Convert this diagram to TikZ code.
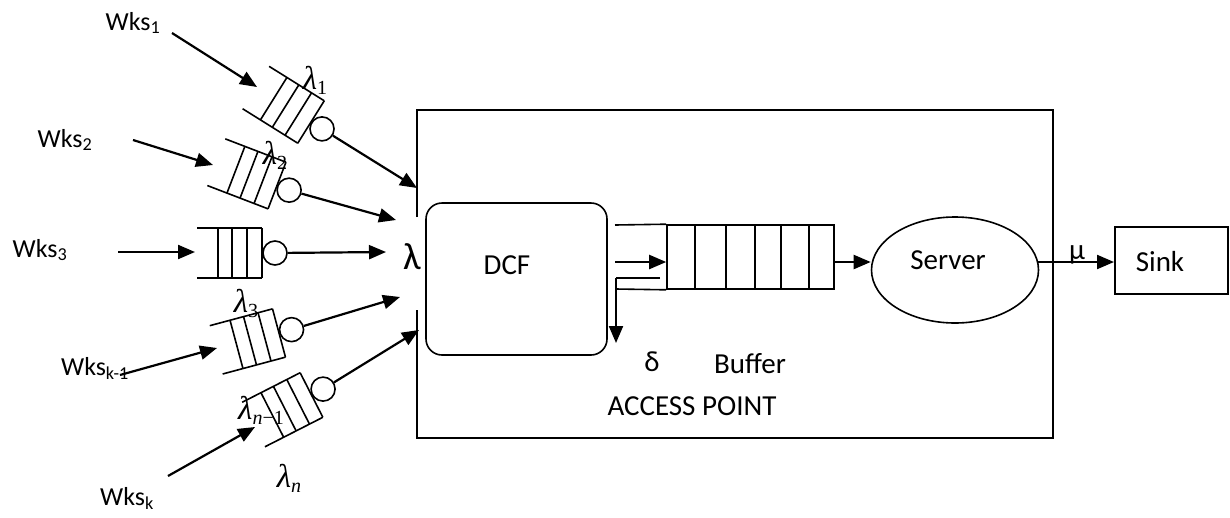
\documentclass[tikz,border=0pt]{standalone}
\usepackage{fontspec}
\setmainfont{Carlito}
\newfontfamily\tms{Liberation Serif}
\usetikzlibrary{arrows.meta,shapes.geometric}
\newcommand{\lamsub}[1]{{\itshape λ}\raisebox{-5pt}{\fontsize{20}{21}\selectfont #1}}
\begin{document}
\begin{tikzpicture}[x=1pt,y=-1pt,
  ln/.style={line width=1.6pt},
  bx/.style={line width=2pt},
  arr/.style={line width=2.2pt,-{Triangle[length=17pt,width=14pt]}},
  txt/.style={inner sep=0pt,font=\fontsize{29}{34}\selectfont},
  wks/.style={inner sep=0pt,font=\fontsize{26}{30}\selectfont},
  lam/.style={inner sep=0pt,font=\tms\fontsize{33}{36}\selectfont},
  pics/wq/.style={code={
    \draw[ln] (-65,-25) -- (0,-25) (-65,25) -- (0,25);
    \foreach \q in {0,-15,-30,-44} \draw[ln] (\q,-25) -- (\q,25);
    \node[draw,ln,circle,minimum size=24pt,inner sep=0pt] (-c) at (13,0) {};
  }}]
\useasboundingbox (0,0) rectangle (1230,517);

% workstation labels
\node[wks] (w1) at (133,23) {Wks\textsubscript{1}};
\node[wks] (w2) at (65,140) {Wks\textsubscript{2}};
\node[wks] (w3) at (40,250) {Wks\textsubscript{3}};
\node[wks] (w4) at (95,368) {Wks\textsubscript{k-1}};
\node[wks] (w5) at (127,498) {Wks\textsubscript{k}};

% queues
\pic[rotate=-32] (q1) at (311,122) {wq};
\pic[rotate=-21] (q2) at (277,185.5) {wq};
\pic (q3) at (262,253) {wq};
\pic[rotate=15] (q4) at (279,333) {wq};
\pic[rotate=27] (q5) at (311.5,395) {wq};

% arrow end points
\coordinate (a1s) at (172,33);  \coordinate (a1e) at (257,87);
\coordinate (a2s) at (133,140); \coordinate (a2e) at (213,165);
\coordinate (a3s) at (118,252); \coordinate (a3e) at (195,252);
\coordinate (a4s) at (120,375); \coordinate (a4e) at (217,348);
\coordinate (a5s) at (168,476); \coordinate (a5e) at (255,427);
\coordinate (t1) at (417,188);
\coordinate (t2) at (396,220);
\coordinate (t3) at (386,252);
\coordinate (t4) at (400,297);
\coordinate (t5) at (419,330);

\draw[arr] (a1s) -- (a1e);
\draw[arr] (a2s) -- (a2e);
\draw[arr] (a3s) -- (a3e);
\draw[arr] (a4s) -- (a4e);
\draw[arr] (a5s) -- (a5e);
\draw[arr] (q1-c) -- (t1);
\draw[arr] (q2-c) -- (t2);
\draw[arr] (q3-c) -- (t3);
\draw[arr] (q4-c) -- (t4);
\draw[arr] (q5-c) -- (t5);

% arrival rate labels
\node[lam] (l1) at (315,80) {\lamsub{1}};
\node[lam] (l2) at (275,155) {\lamsub{2}};
\node[lam] (l3) at (246,303) {\lamsub{3}};
\node[lam] (l4) at (261,410) {\lamsub{\itshape n\upshape −1}};
\node[lam] (l5) at (289,478) {\lamsub{\itshape n}};

% access point box
\draw[bx] (417,217) -- (417,110) -- (1053,110) -- (1053,438) -- (417,438) -- (417,310);
\node[inner sep=0pt,font=\fontsize{38}{42}\selectfont] (lam) at (412,257) {λ};

% DCF
\node[draw,ln,rounded corners=16pt,minimum width=181pt,minimum height=152pt] (dcf) at (516.5,279) {};
\node[txt] (dcft) at (507,265) {DCF};

% buffer
\node[draw,ln,minimum width=167pt,minimum height=64pt,inner sep=0pt] (buf) at (750.5,257) {};
\foreach \q in {695,726,755,781,809} \draw[ln] (\q,225) -- (\q,289);
\coordinate (bt) at (615,225);
\coordinate (bb) at (616,289);
\coordinate (bin) at (615,262);
\coordinate (bs) at (616,278);
\coordinate (bse) at (660,278);
\coordinate (bd) at (616,343);
\draw[ln] (bt) -- (buf.north west);
\draw[ln] (bb) -- (buf.south west);
\draw[arr] (bin) -- (buf.west |- bin);
\draw[ln] (bse) -- (bs);
\draw[arr] (bs) -- (bd);
\node[txt] (delta) at (652,362) {δ};
\node[txt] (buft) at (750,364) {Buffer};
\node[txt] (apt) at (692,406) {ACCESS POINT};

% server
\node[draw,ln,ellipse,minimum width=167pt,minimum height=106pt,inner sep=0pt] (srv) at (955,270) {};
\node[txt] (srvt) at (948,260) {Server};
\coordinate (bo) at (834,262);
\draw[arr] (bo) -- (srv.west |- bo);

% sink
\node[draw,bx,minimum width=113pt,minimum height=67pt,inner sep=0pt] (sink) at (1171.5,260.5) {};
\node[txt] (sinkt) at (1160,262) {Sink};
\coordinate (so) at (1038,262);
\draw[arr] (so) -- (sink.west |- so);
\node[txt] (mu) at (1077,255) {μ};
\end{tikzpicture}
\end{document}
